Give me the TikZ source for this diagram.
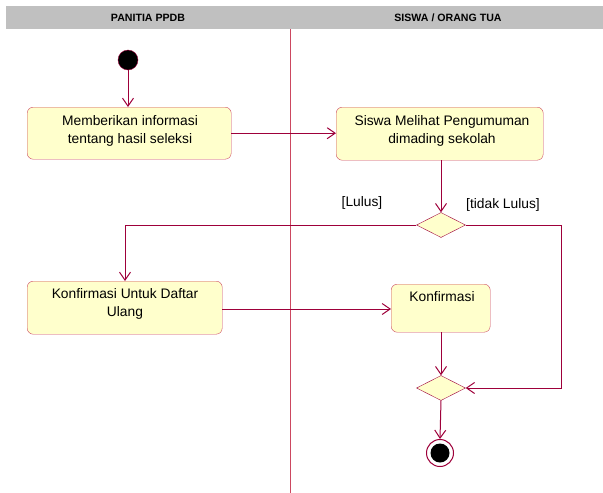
\documentclass[tikz,border=0pt]{standalone}
\usepackage{fontspec}
\setmainfont{Liberation Sans}
\usetikzlibrary{arrows.meta}
\usetikzlibrary{shapes.geometric}
\definecolor{umlline}{RGB}{158,0,58}
\definecolor{umlbox}{RGB}{204,72,96}
\definecolor{umlfill}{RGB}{255,255,204}
\definecolor{lanegray}{RGB}{192,192,192}
\tikzset{   activity/.style = {rectangle, rounded corners = 6pt, draw = umlbox, fill = umlfill, anchor = north west, inner sep = 0pt},
            label/.style = {font = \fontsize{13.8}{18}\selectfont, align = center, anchor = north},
            choice/.style = {diamond, draw = umlline, fill = umlfill, minimum width = 49pt, minimum height = 25pt, inner sep = 0pt, aspect = 2},
            flow/.style = {draw = umlline, line width = 1pt, -{Straight Barb[length=8pt, width=11pt]}},
            guard/.style = {font = \fontsize{13.8}{16}\selectfont}}

\begin{document}
\begin{tikzpicture}[x=1pt, y=-1pt]
                        \useasboundingbox (0,0) rectangle (603,493);
                        % swimlanes
                        \fill[lanegray] (6,6) rectangle (603,29);
                        \node[font=\fontsize{10.6}{12}\bfseries] (lanepanitia) at (148,17.5) {PANITIA PPDB};
                        \node[font=\fontsize{10.6}{12}\bfseries] (lanesiswa) at (448,17.5) {SISWA / ORANG TUA};
                        \draw[color=umlbox, line width=1pt] (290,29) -- (290,493);
                        % start and end
                        \node[circle, fill=black, draw=umlline, minimum size=20pt, inner sep=0pt] (start) at (128,60) {};
                        \node[circle, draw=umlline, line width=1pt, fill=white, minimum size=27pt, inner sep=0pt] (finish) at (440,453) {};
                        \node[circle, fill=black, minimum size=19pt, inner sep=0pt] (finishdot) at (440,453) {};
                        % actions
                        \node[activity, minimum width=204pt, minimum height=52pt] (info) at (27,107) {};
                        \node[label] (infotext) at (130,112) {Memberikan informasi\\tentang hasil seleksi};
                        \node[activity, minimum width=207pt, minimum height=53pt] (lihat) at (336,107) {};
                        \node[label] (lihattext) at (442,112) {Siswa Melihat Pengumuman\\dimading sekolah};
                        \node[activity, minimum width=195pt, minimum height=53pt] (daftar) at (27,281) {};
                        \node[label] (daftartext) at (125,284.5) {Konfirmasi Untuk Daftar\\Ulang};
                        \node[activity, minimum width=99pt, minimum height=48pt] (konfirmasi) at (391,284) {};
                        \node[label] (konfirmasitext) at (442,287.5) {Konfirmasi};
                        % decisions
                        \node[choice] (seleksi) at (441,225) {};
                        \node[choice] (gabung) at (441,388) {};
                        \node[guard] (lulus) at (362,203) {[Lulus]};
                        \node[guard] (tidaklulus) at (503,205) {[tidak Lulus]};
                        \coordinate (belok) at (561,225);
                        % flows
                        \draw[flow] (start) -- (start |- info.north);
                        \draw[flow] (info.east) -- (lihat.west |- info.east);
                        \draw[flow] (seleksi.north |- lihat.south) -- (seleksi.north);
                        \draw[flow] (seleksi.west) -| (daftar.north -| 125,0);
                        \draw[flow] (seleksi.east) -- (belok) |- (gabung.east);
                        \draw[flow] (daftar.east |- 0,309) -- (konfirmasi.west |- 0,309);
                        \draw[flow] (gabung.north |- konfirmasi.south) -- (gabung.north);
                        \draw[flow] (gabung.south) -- (finish.north);
                      \end{tikzpicture}
\end{document}
